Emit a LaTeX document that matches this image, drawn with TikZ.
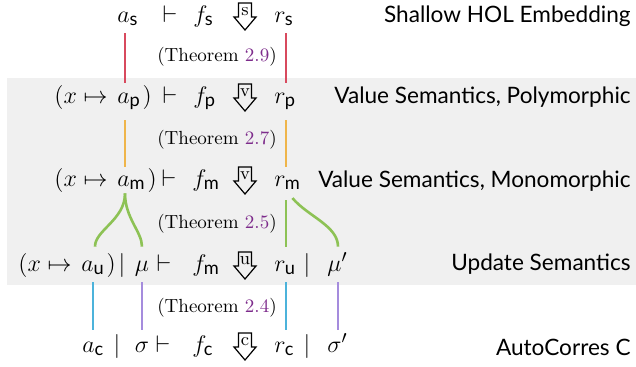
\documentclass[tikz,border=0pt]{standalone}
\usepackage{amsmath}
\usepackage{fontspec}
\setsansfont{Lato}
\usepackage{tikz}
\usetikzlibrary{positioning}
\usepackage{xcolor}

\definecolor{bandgray}{HTML}{F0F0F0}
\definecolor{linkred}{HTML}{D84A5E}
\definecolor{linkorange}{HTML}{EFB54A}
\definecolor{linkgreen}{HTML}{8DC255}
\definecolor{linkblue}{HTML}{4CB3DB}
\definecolor{linkpurple}{HTML}{A58CDD}
\definecolor{thmpurple}{HTML}{7D2B8B}

% evaluation arrow: name, position, letter
\newcommand\semarrow[3]{%
  \node[arrlet] (#1) at (#2) {#3};
  \draw[arrbody] ([shift={(-6.5,-9)}]#1.center) -- ++(0,14) -- ++(-4.5,0)
    -- ++(11,13) -- ++(11,-13) -- ++(-4.5,0) -- ++(0,-14) -- cycle;
}

\begin{document}
\begin{tikzpicture}[
        x=0.5pt, y=-0.5pt,
        mathnd/.style={inner sep=0pt, anchor=base, text height=5.5pt, text depth=2pt, font=\fontsize{13}{15}\selectfont},
        lbl/.style={anchor=base east, inner sep=0pt, font=\sffamily\fontsize{11.3}{13}\selectfont},
        thm/.style={anchor=base, inner sep=0pt, font=\fontsize{9.5}{11}\selectfont},
        arrlet/.style={inner sep=0pt, font=\fontsize{9}{10}\selectfont},
        arrbody/.style={draw=black, line width=0.6pt},
        link/.style={line width=1.3pt}
    ]
        \useasboundingbox (0,0) rectangle (636,366);
        \fill[bandgray] (7,78) rectangle (636,285);

        % Shallow embedding
        \node[mathnd, anchor=base west] (as) at (117,22) {$a_{\mathsf{s}}$};
        \node[mathnd] (vd1) at (170,22) {$\vdash$};
        \node[mathnd, anchor=base west] (fs) at (193,22) {$f_{\mathsf{s}}$};
        \semarrow{ks}{245,12}{s}
        \node[mathnd, anchor=base west] (rs) at (274,22) {$r_{\mathsf{s}}$};
        \node[lbl] (ls) at (631,22) {Shallow HOL Embedding};

        % Value semantics, polymorphic
        \node[mathnd, anchor=base west] (ap) at (117,103) {$a_{\mathsf{p}}$};
        \node[mathnd, base left=4.5pt of ap] (apin) {$(x \mapsto$};
        \node[mathnd, base right=0.5pt of ap] (apcl) {$)$};
        \node[mathnd] (vd2) at (170,103) {$\vdash$};
        \node[mathnd, anchor=base west] (fp) at (193,103) {$f_{\mathsf{p}}$};
        \semarrow{kp}{245,93}{v}
        \node[mathnd, anchor=base west] (rp) at (274,103) {$r_{\mathsf{p}}$};
        \node[lbl] (lp) at (631,103) {Value Semantics, Polymorphic};

        % Value semantics, monomorphic
        \node[mathnd, anchor=base west] (am) at (117,186) {$a_{\mathsf{m}}$};
        \node[mathnd, base left=4.5pt of am] (amin) {$(x \mapsto$};
        \node[mathnd, base right=0.5pt of am] (amcl) {$)$};
        \node[mathnd] (vd3) at (169,186) {$\vdash$};
        \node[mathnd, anchor=base west] (fm) at (192,186) {$f_{\mathsf{m}}$};
        \semarrow{km}{245,176}{v}
        \node[mathnd, anchor=base west] (rm) at (274,186) {$r_{\mathsf{m}}$};
        \node[lbl] (lm) at (631,187) {Value Semantics, Monomorphic};

        % Update semantics
        \node[mathnd, anchor=base west] (au) at (81,271) {$a_{\mathsf{u}}$};
        \node[mathnd, base left=4.5pt of au] (auin) {$(x \mapsto$};
        \node[mathnd, base right=0.5pt of au] (aucl) {$)$};
        \node[mathnd] (bar4a) at (122,271) {$|$};
        \node[mathnd] (mu) at (142,271) {$\mu$};
        \node[mathnd] (vd4) at (164,271) {$\vdash$};
        \node[mathnd, anchor=base west] (fu) at (192,271) {$f_{\mathsf{m}}$};
        \semarrow{ku}{245,261}{u}
        \node[mathnd, anchor=base west] (ru) at (274,271) {$r_{\mathsf{u}}$};
        \node[mathnd] (bar4b) at (307,271) {$|$};
        \node[mathnd, anchor=base west] (mup) at (327,271) {$\mu'$};
        \node[lbl] (lu) at (631,270) {Update Semantics};

        % AutoCorres C
        \node[mathnd, anchor=base west] (ac) at (82,352) {$a_{\mathsf{c}}$};
        \node[mathnd] (bar5a) at (117,352) {$|$};
        \node[mathnd] (sg) at (142,352) {$\sigma$};
        \node[mathnd] (vd5) at (163,352) {$\vdash$};
        \node[mathnd, anchor=base west] (fc) at (192,352) {$f_{\mathsf{c}}$};
        \semarrow{kc}{245,342}{c}
        \node[mathnd, anchor=base west] (rc) at (274,352) {$r_{\mathsf{c}}$};
        \node[mathnd] (bar5b) at (307,352) {$|$};
        \node[mathnd, anchor=base west] (sgp) at (327,352) {$\sigma'$};
        \node[lbl] (lc) at (631,355) {AutoCorres C};

        % Theorems
        \node[thm] (t29) at (217,61) {(Theorem {\color{thmpurple}2.9})};
        \node[thm] (t27) at (217,144) {(Theorem {\color{thmpurple}2.7})};
        \node[thm] (t25) at (217,228) {(Theorem {\color{thmpurple}2.5})};
        \node[thm] (t24) at (217,312) {(Theorem {\color{thmpurple}2.4})};

        % Correspondence links
        \draw[link, linkred, shorten <=3.5pt, shorten >=4.5pt] ([xshift=4pt]as.south west) -- ([xshift=4pt]ap.north west);
        \draw[link, linkred, shorten <=3.5pt, shorten >=4.5pt] ([xshift=6pt]rs.south west) -- ([xshift=6pt]rp.north west);
        \draw[link, linkorange, shorten <=6.5pt, shorten >=4pt] ([xshift=4pt]ap.south west) -- ([xshift=4pt]am.north west);
        \draw[link, linkorange, shorten <=6.5pt, shorten >=4pt] ([xshift=6pt]rp.south west) -- ([xshift=6pt]rm.north west);
        \draw[link, linkgreen, shorten <=1.5pt, shorten >=6.5pt] ([xshift=4pt]am.south west) to[out=-90, in=90] ([xshift=7pt]au.north west);
        \draw[link, linkgreen, shorten <=1.5pt, shorten >=6.5pt] ([xshift=4pt]am.south west) to[out=-90, in=90] (mu.north);
        \draw[link, linkgreen, shorten <=5pt, shorten >=6.5pt] ([xshift=6pt]rm.south west) -- ([xshift=6pt]ru.north west);
        \draw[link, linkgreen, shorten <=5pt, shorten >=6.5pt] ([xshift=6pt]rm.south west) to[out=-50, in=90] ([xshift=5.5pt]mup.north west);
        \draw[link, linkblue, shorten <=3.5pt, shorten >=5.5pt] ([xshift=6pt]au.south west) -- ([xshift=5.5pt]ac.north west);
        \draw[link, linkpurple, shorten <=3.5pt, shorten >=5.5pt] (mu.south) -- (sg.north);
        \draw[link, linkblue, shorten <=3.5pt, shorten >=5.5pt] ([xshift=6pt]ru.south west) -- ([xshift=6pt]rc.north west);
        \draw[link, linkpurple, shorten <=3.5pt, shorten >=5.5pt] ([xshift=5.5pt]mup.south west) -- ([xshift=5.5pt]sgp.north west);
    \end{tikzpicture}
\end{document}
